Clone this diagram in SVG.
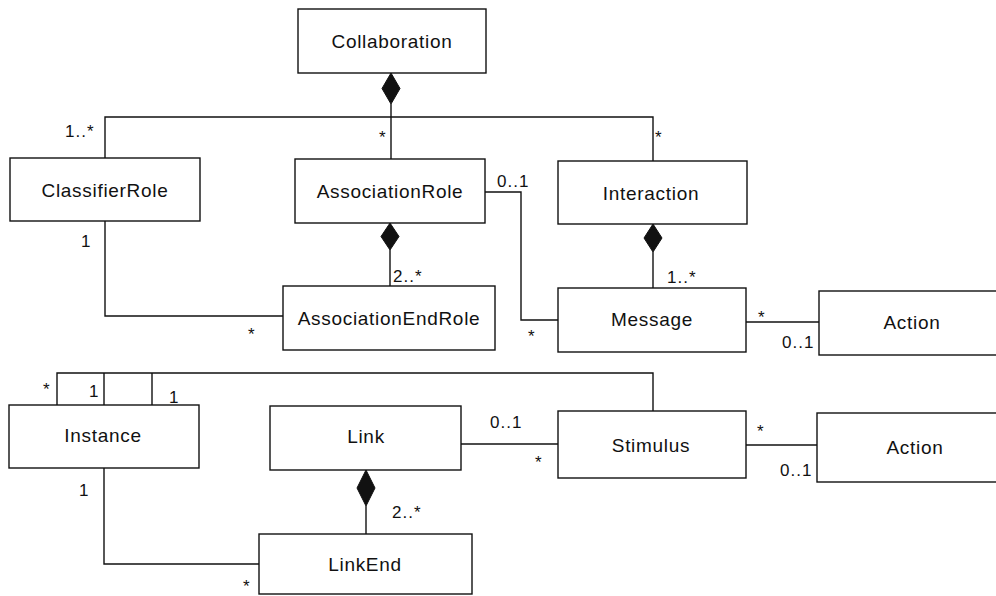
<svg xmlns="http://www.w3.org/2000/svg" width="996" height="596" viewBox="0 0 996 596">
<style>
.box{fill:#fff;stroke:#111;stroke-width:1.4}
.n{font-family:"Liberation Sans",Arial,sans-serif;font-size:19px;letter-spacing:0.7px;fill:#111;text-anchor:middle}
.m{font-family:"Liberation Sans",Arial,sans-serif;font-size:17px;letter-spacing:1px;fill:#111}
.c{fill:none;stroke:#111;stroke-width:1.4}
.d{fill:#111;stroke:#111;stroke-width:1}
</style>
<rect width="996" height="596" fill="#fff"/>
<g id="connectors">
<path class="c" d="M391,104 V117 M105,158 V117 H653 V161 M391,117 V159"/>
<polygon class="d" points="391,73 400,88.5 391,104 382,88.5"/>
<path class="c" d="M105,221 V316 H283"/>
<path class="c" d="M390,250 V286"/>
<polygon class="d" points="390,223 399,236.5 390,250 381,236.5"/>
<path class="c" d="M485,192 H521 V320 H558"/>
<path class="c" d="M653,252 V288"/>
<polygon class="d" points="653,224 662,238 653,252 644,238"/>
<path class="c" d="M746,322 H819"/>
<path class="c" d="M57,405 V373 H653 V411 M104,373 V405 M152,373 V405"/>
<path class="c" d="M461,444 H558"/>
<path class="c" d="M746,445 H817"/>
<path class="c" d="M366,506 V534"/>
<polygon class="d" points="366,470 375,488 366,506 357,488"/>
<path class="c" d="M104,468 V564 H259"/>
<text class="m" x="65" y="137">1..*</text>
<text class="m" x="379" y="143">*</text>
<text class="m" x="655" y="143">*</text>
<text class="m" x="81" y="247">1</text>
<text class="m" x="248" y="340">*</text>
<text class="m" x="393" y="282">2..*</text>
<text class="m" x="497" y="187">0..1</text>
<text class="m" x="528" y="342">*</text>
<text class="m" x="667" y="283">1..*</text>
<text class="m" x="758" y="323">*</text>
<text class="m" x="782" y="348">0..1</text>
<text class="m" x="43" y="395">*</text>
<text class="m" x="89" y="397">1</text>
<text class="m" x="169" y="403">1</text>
<text class="m" x="490" y="428">0..1</text>
<text class="m" x="535" y="468">*</text>
<text class="m" x="757" y="437">*</text>
<text class="m" x="780" y="476">0..1</text>
<text class="m" x="392" y="518">2..*</text>
<text class="m" x="79" y="496">1</text>
<text class="m" x="243" y="592">*</text>
</g>
<g id="Collaboration"><rect class="box" x="298" y="9" width="188" height="64"/><text class="n" x="392" y="48">Collaboration</text></g>
<g id="ClassifierRole"><rect class="box" x="10" y="158" width="190" height="63"/><text class="n" x="105" y="197">ClassifierRole</text></g>
<g id="AssociationRole"><rect class="box" x="295" y="159" width="190" height="64"/><text class="n" x="390" y="198">AssociationRole</text></g>
<g id="Interaction"><rect class="box" x="558" y="161" width="189" height="63"/><text class="n" x="651" y="200">Interaction</text></g>
<g id="AssociationEndRole"><rect class="box" x="283" y="286" width="212" height="64"/><text class="n" x="389" y="325">AssociationEndRole</text></g>
<g id="Message"><rect class="box" x="558" y="288" width="188" height="64"/><text class="n" x="652" y="326">Message</text></g>
<g id="Action1"><rect class="box" x="819" y="291" width="200" height="64"/><text class="n" x="912" y="329">Action</text></g>
<g id="Instance"><rect class="box" x="9" y="405" width="190" height="63"/><text class="n" x="103" y="442">Instance</text></g>
<g id="Link"><rect class="box" x="270" y="406" width="191" height="64"/><text class="n" x="366" y="443">Link</text></g>
<g id="Stimulus"><rect class="box" x="558" y="411" width="188" height="67"/><text class="n" x="651" y="452">Stimulus</text></g>
<g id="Action2"><rect class="box" x="817" y="413" width="200" height="69"/><text class="n" x="915" y="454">Action</text></g>
<g id="LinkEnd"><rect class="box" x="259" y="534" width="213" height="60"/><text class="n" x="365" y="571">LinkEnd</text></g>
</svg>
